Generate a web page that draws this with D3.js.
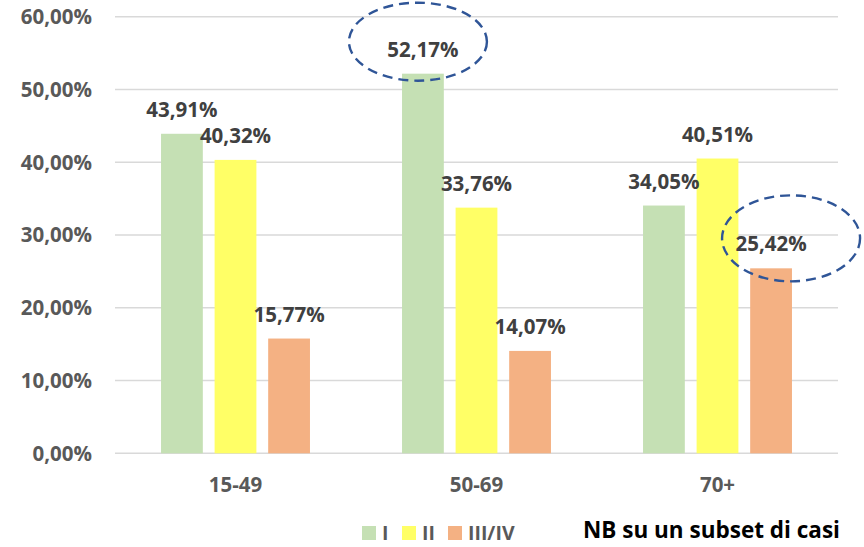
<!DOCTYPE html>
<html><head><meta charset="utf-8">
<script src="https://cdn.jsdelivr.net/npm/d3@7"></script>
<style>
html,body{margin:0;padding:0;background:#fff;}
svg{display:block;}
text{font-family:"Open Sans",sans-serif;font-weight:700;}
</style></head>
<body>
<svg id="chart" width="864" height="547"></svg>
<script>
const categories = ["15-49", "50-69", "70+"];
const seriesNames = ["I", "II", "III/IV"];
const seriesI = [43.91, 52.17, 34.05];
const seriesII = [40.32, 33.76, 40.51];
const seriesIII = [15.77, 14.07, 25.42];
const yTicks = [0, 10, 20, 30, 40, 50, 60];
const colors = ["#C5E0B4", "#FFFF66", "#F4B183"];
const highlights = [{cat: "50-69", s: "I"}, {cat: "70+", s: "III/IV"}];
const note = "NB su un subset di casi";

const allSeries = [seriesI, seriesII, seriesIII];
const data = categories.map((c, i) => ({cat: c, vals: seriesNames.map((s, j) => ({s, v: allSeries[j][i]}))}));

const loc = d3.formatLocale({decimal: ",", thousands: ".", grouping: [3], currency: ["", "€"]});
const fmt = v => loc.format(".2f")(v) + "%";

const svg = d3.select("#chart");
const plotLeft = 115, plotRight = 838, plotTop = 16.7, plotBottom = 453.3;
const fs = 20.5;

const y = d3.scaleLinear().domain([0, 60]).range([plotBottom, plotTop]);
const x0 = d3.scaleBand().domain(categories).range([plotLeft, plotRight]).paddingInner(0.382).paddingOuter(0.191);
const x1 = d3.scaleBand().domain(seriesNames).range([0, x0.bandwidth()]).paddingInner(0.22);
const color = d3.scaleOrdinal().domain(seriesNames).range(colors);

// gridlines
svg.append("g").selectAll("line").data(yTicks).join("line")
  .attr("x1", plotLeft).attr("x2", plotRight)
  .attr("y1", d => y(d)).attr("y2", d => y(d))
  .attr("stroke", "#D9D9D9").attr("stroke-width", 1.4);

// y tick labels
svg.append("g").selectAll("text").data(yTicks).join("text")
  .attr("x", 92).attr("y", d => y(d)).attr("dy", "0.36em")
  .attr("text-anchor", "end").attr("fill", "#595959").attr("font-size", fs)
  .text(d => loc.format(".2f")(d) + "%");

// bars
const groups = svg.append("g").selectAll("g").data(data).join("g")
  .attr("transform", d => `translate(${x0(d.cat)},0)`);
groups.selectAll("rect").data(d => d.vals).join("rect")
  .attr("x", d => x1(d.s)).attr("width", x1.bandwidth())
  .attr("y", d => y(d.v)).attr("height", d => y(0) - y(d.v))
  .attr("fill", d => color(d.s));
groups.selectAll("text").data(d => d.vals).join("text")
  .attr("x", d => x1(d.s) + x1.bandwidth() / 2)
  .attr("y", d => y(d.v) - 17)
  .attr("text-anchor", "middle").attr("fill", "#404040").attr("font-size", fs)
  .text(d => fmt(d.v));

// category labels
svg.append("g").selectAll("text").data(categories).join("text")
  .attr("x", d => x0(d) + x0.bandwidth() / 2).attr("y", 492)
  .attr("text-anchor", "middle").attr("fill", "#595959").attr("font-size", fs)
  .text(d => d);

// highlight ellipses
svg.append("g").selectAll("ellipse").data(highlights).join("ellipse")
  .attr("cx", d => x0(d.cat) + x1(d.s) + x1.bandwidth() / 2 - 5 + (d.s === "III/IV" ? 25 : 0))
  .attr("cy", d => {
    const v = data.find(e => e.cat === d.cat).vals.find(e => e.s === d.s).v;
    return y(v) - 26 + (d.s === "III/IV" ? -4 : -6);
  })
  .attr("rx", 69).attr("ry", d => d.s === "III/IV" ? 43 : 39)
  .attr("fill", "none").attr("stroke", "#2F5597").attr("stroke-width", 2.4)
  .attr("stroke-dasharray", "10,6");

// legend
const legX = [362, 402, 448];
const leg = svg.append("g").selectAll("g").data(seriesNames).join("g")
  .attr("transform", (d, i) => `translate(${legX[i]},526)`);
leg.append("rect").attr("width", 14).attr("height", 14).attr("fill", d => color(d));
leg.append("text").attr("x", 20).attr("y", 14).attr("fill", "#595959").attr("font-size", 19.5)
  .text(d => d);

svg.append("text").attr("x", 583).attr("y", 538).attr("fill", "#000").attr("font-size", 22.5)
  .text(note);
</script>
</body></html>
